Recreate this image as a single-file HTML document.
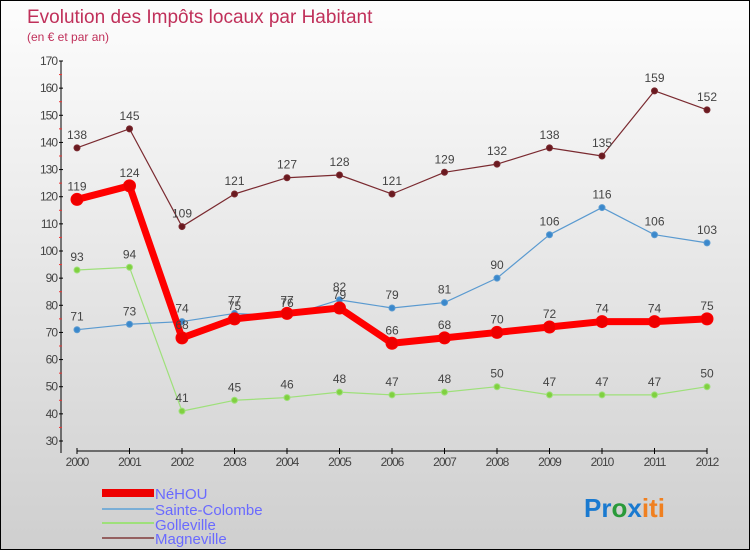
<!DOCTYPE html>
<html><head><meta charset="utf-8"><style>
body{margin:0;}
#c{width:750px;height:550px;position:relative;box-sizing:border-box;border:1px solid #000;background:linear-gradient(#fdfdfd,#cfcfcf);font-family:"Liberation Sans",sans-serif;overflow:hidden}
svg text{font-family:"Liberation Sans",sans-serif}
</style></head><body>
<div id="c">
<svg width="750" height="550" id="s">
<text x="26" y="22" font-size="19" fill="#c0305a">Evolution des Impôts locaux par Habitant</text>
<text x="26" y="40" font-size="12" fill="#c0305a">(en € et par an)</text>
<g id="axes"></g><g id="series"></g>
<g>
<rect x="101" y="488" width="52" height="8" fill="#e00"/>
<text x="154" y="498" font-size="15" fill="#6a6aff">NéHOU</text>
<rect x="101" y="507" width="52" height="2" fill="#7aaed6"/>
<text x="154" y="514" font-size="15" fill="#6a6aff">Sainte-Colombe</text>
<rect x="101" y="521" width="52" height="2" fill="#9ee07a"/>
<text x="154" y="529" font-size="15" fill="#6a6aff">Golleville</text>
<rect x="101" y="536" width="52" height="2" fill="#946060"/>
<text x="154" y="543" font-size="15" fill="#6a6aff">Magneville</text>
</g>
<g font-size="26" font-weight="bold">
<text x="583" y="516"><tspan fill="#1a7ad0">Pr</tspan><tspan fill="#2a9a3a">o</tspan><tspan fill="#1a7ad0">x</tspan><tspan fill="#f08020">iti</tspan></text>
</g>
</svg></div>
<script>
const years=["2000","2001","2002","2003","2004","2005","2006","2007","2008","2009","2010","2011","2012"];
const yTicks=[30,40,50,60,70,80,90,100,110,120,130,140,150,160,170];
const nehou=[119,124,68,75,77,79,66,68,70,72,74,74,75];
const sainteColombe=[71,73,74,77,76,82,79,81,90,106,116,106,103];
const golleville=[93,94,41,45,46,48,47,48,50,47,47,47,50];
const magneville=[138,145,109,121,127,128,121,129,132,138,135,159,152];
const NS="http://www.w3.org/2000/svg";
const X=i=>76+i*52.5, Y=v=>440-(v-30)*380/140;
function mk(t,a,p){const e=document.createElementNS(NS,t);for(const k in a)e.setAttribute(k,a[k]);p.appendChild(e);return e;}
const ax=document.getElementById('axes'), sg=document.getElementById('series');
let l=mk('line',{x1:60,y1:Y(170),x2:60,y2:452,stroke:'#000','stroke-width':1},ax);


l=mk('line',{x1:76,y1:450,x2:706,y2:450,stroke:'#000','stroke-width':1},ax);


yTicks.forEach(v=>{
 mk('line',{x1:58,x2:62,y1:Y(v),y2:Y(v),stroke:'#000'},ax);
 if(v<170)mk('line',{x1:58,x2:61,y1:Y(v+5),y2:Y(v+5),stroke:'#e33'},ax);
 const t=mk('text',{x:56,y:Y(v)+4,'font-size':12,'text-anchor':'end',fill:'#444','letter-spacing':'-1'},ax);t.textContent=v;
 
 
});
years.forEach((y,i)=>{
 mk('line',{x1:X(i),x2:X(i),y1:447,y2:453,stroke:'#000'},ax);
 const t=mk('text',{x:X(i),y:465,'font-size':12,'text-anchor':'middle',fill:'#444','letter-spacing':'-1'},ax);t.textContent=y;
 
 
});
function series(d,name,col,w,r,dot){
 const g=mk('g',{},sg);
 
 
 const p=mk('polyline',{points:d.map((v,i)=>X(i)+','+Y(v)).join(' '),fill:'none',stroke:col,'stroke-width':w,'stroke-linejoin':'round'},g);
 
 
 d.forEach((v,i)=>{
  const c=mk('circle',{cx:X(i),cy:Y(v),r:r,fill:dot,stroke:col,'stroke-width':1},g);
  
  
  const t=mk('text',{x:X(i),y:Y(v)-9,'font-size':12,'text-anchor':'middle',fill:'#444'},g);t.textContent=v;
  
  
 });
}
series(magneville,'magneville','#7a2a30',1.2,3,'#6a1a20');
series(golleville,'golleville','#9ee07a',1.2,3,'#80d040');
series(sainteColombe,'sainte-colombe','#5a9ad0',1.2,3,'#3a88cc');
series(nehou,'nehou','#f00',7,6,'#e00');
</script>
</body></html>
